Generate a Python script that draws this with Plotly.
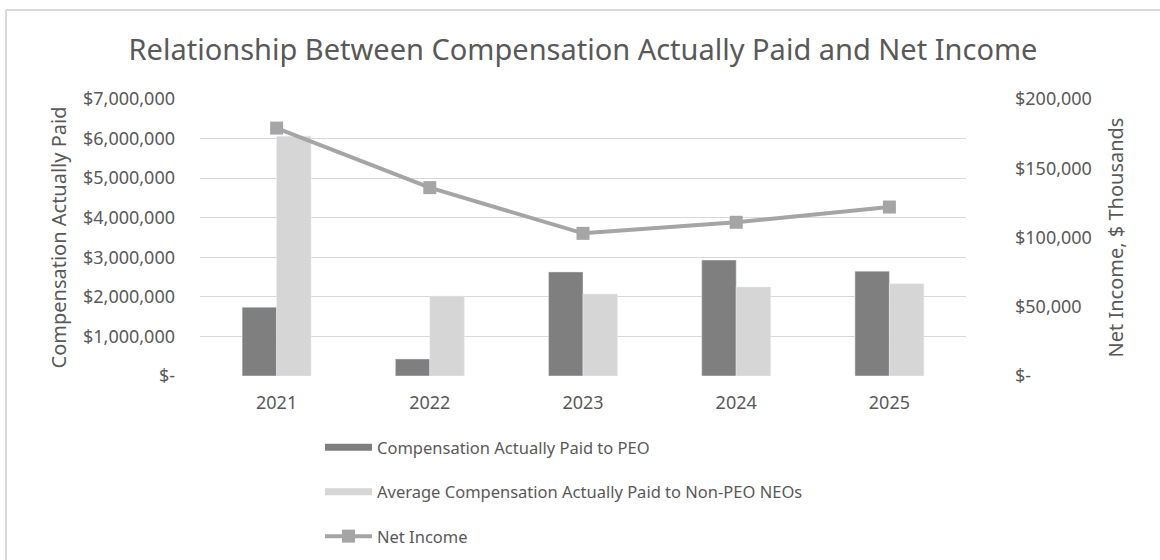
import plotly.graph_objects as go

years = ["2021", "2022", "2023", "2024", "2025"]
peo_cap = [1740000, 430000, 2630000, 2930000, 2650000]
neo_cap = [6060000, 2020000, 2070000, 2250000, 2330000]
net_income = [179000, 136000, 103000, 111000, 122000]

left_ticks = [0, 1000000, 2000000, 3000000, 4000000, 5000000, 6000000, 7000000]
left_labels = ["$-", "$1,000,000", "$2,000,000", "$3,000,000", "$4,000,000",
               "$5,000,000", "$6,000,000", "$7,000,000"]
right_ticks = [0, 50000, 100000, 150000, 200000]
right_labels = ["$-", "$50,000", "$100,000", "$150,000", "$200,000"]

FONT = "Noto Sans"
TXT = "#595959"
C_PEO = "#7F7F7F"
C_NEO = "#D6D6D6"
C_NI = "#A5A5A5"

W, H = 1160, 560
L, R, T, B = 200, 194, 99, 184
pw, ph = W - L - R, H - T - B

def px2x(px):
    return (px - L) / pw

def py2y(py):
    return (H - B - py) / ph

fig = go.Figure()
fig.add_trace(go.Bar(x=years, y=peo_cap, name="Compensation Actually Paid to PEO",
                     marker_color=C_PEO, showlegend=False))
fig.add_trace(go.Bar(x=years, y=neo_cap, name="Average Compensation Actually Paid to Non-PEO NEOs",
                     marker_color=C_NEO, showlegend=False))
fig.add_trace(go.Scatter(x=years, y=net_income, name="Net Income", yaxis="y2",
                         mode="lines+markers",
                         line=dict(color=C_NI, width=4),
                         marker=dict(symbol="square", size=13, color=C_NI),
                         legendgroup="c", legendrank=3))
# legend swatches for the bar series (wide rectangles like the original)
fig.add_trace(go.Scatter(x=[None], y=[None], mode="lines", name="Compensation Actually Paid to PEO",
                         line=dict(color=C_PEO, width=7), legendgroup="a", legendrank=1))
fig.add_trace(go.Scatter(x=[None], y=[None], mode="lines",
                         name="Average Compensation Actually Paid to Non-PEO NEOs",
                         line=dict(color=C_NEO, width=7), legendgroup="b", legendrank=2))

fig.update_layout(
    width=W, height=H,
    margin=dict(l=L, r=R, t=T, b=B, autoexpand=False),
    paper_bgcolor="white", plot_bgcolor="white",
    font=dict(family=FONT, color=TXT, size=18),
    barmode="group", bargap=0.55, bargroupgap=0,
    title=dict(text="Relationship Between Compensation Actually Paid and Net Income",
               x=0.5, xref="paper", y=1 - 50 / H, yanchor="middle",
               font=dict(family=FONT, size=29, color=TXT)),
    xaxis=dict(type="category", showline=False, ticks="", tickfont=dict(size=18),
               ticklabelstandoff=14),
    yaxis=dict(range=[0, 7000000], tickvals=left_ticks, ticktext=left_labels,
               showgrid=True, gridcolor="#D9D9D9", gridwidth=1, zeroline=False,
               showline=False, ticks="", ticklabelstandoff=24, tickfont=dict(size=18),
               title=dict(text="Compensation Actually Paid", font=dict(size=20), standoff=10)),
    yaxis2=dict(range=[0, 200000], tickvals=right_ticks, ticktext=right_labels,
                overlaying="y", side="right", showgrid=False, zeroline=False,
                showline=False, ticks="", ticklabelstandoff=48, tickfont=dict(size=18),
                title=dict(text="Net Income, $ Thousands", font=dict(size=20), standoff=18)),
    legend=dict(orientation="v", x=px2x(320), y=py2y(430), xanchor="left", yanchor="top",
                traceorder="grouped", tracegroupgap=20, font=dict(size=16.5),
                itemwidth=47, bgcolor="rgba(0,0,0,0)"),
    shapes=[
        dict(type="line", xref="paper", yref="paper", x0=px2x(6), x1=px2x(1165),
             y0=py2y(10), y1=py2y(10), line=dict(color="#D9D9D9", width=2)),
        dict(type="line", xref="paper", yref="paper", x0=px2x(6), x1=px2x(6),
             y0=py2y(10), y1=py2y(565), line=dict(color="#D9D9D9", width=2)),
    ],
)

fig.write_html("out.html", config={"displayModeBar": False},
               post_script="document.body.style.margin='0';")
